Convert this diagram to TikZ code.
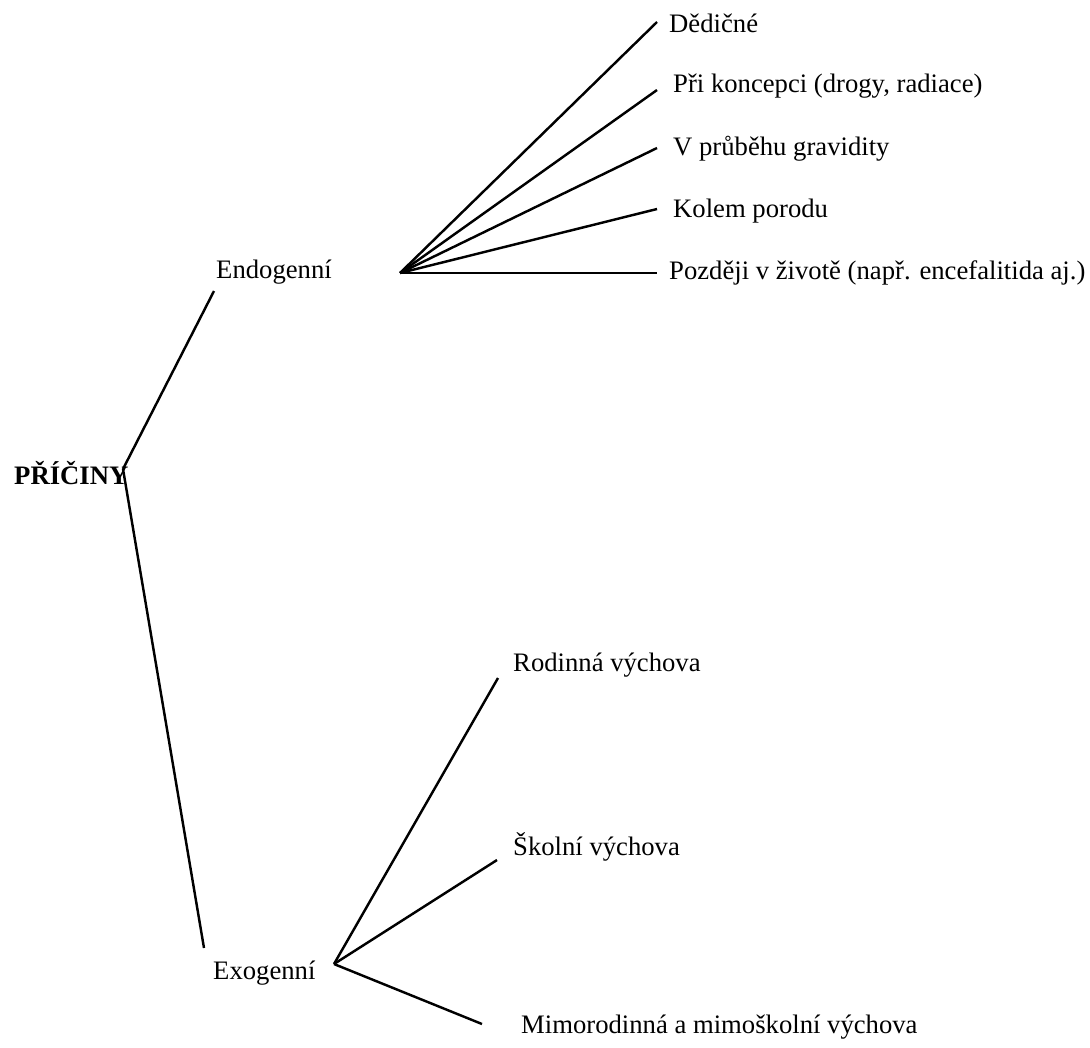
\documentclass[tikz,border=0pt]{standalone}
\usepackage{fontspec}
\setmainfont{Liberation Serif}
\usetikzlibrary{positioning}

\begin{document}
\begin{tikzpicture}[
  x=0.45pt, y=-0.45pt, line width=1.1pt,
  lbl/.style  = {anchor=base west, inner sep=0pt, font=\fontsize{12}{14}\selectfont},
  rootlbl/.style = {lbl, font=\fontsize{12}{14}\selectfont\bfseries},
]
  \useasboundingbox (0,0) rectangle (1090,1047);

  % root
  \node[rootlbl] (pric) at (13,484) {PŘÍČINY};
  \coordinate (hub) at (123,469);

  % main branches
  \node[lbl] (endo) at (215,278) {Endogenní};
  \coordinate (endo-in)  at (214,291);
  \coordinate (endo-out) at (400,273);

  \node[lbl] (exo) at (212,979) {Exogenní};
  \coordinate (exo-in)  at (204,948);
  \coordinate (exo-out) at (334,964);

  % endogenous causes
  \node[lbl] (dedic)   at (668,32)  {Dědičné};
  \node[lbl] (konc)    at (672,92)  {Při koncepci (drogy, radiace)};
  \node[lbl] (grav)    at (672,155) {V průběhu gravidity};
  \node[lbl] (porod)   at (672,217) {Kolem porodu};
  \node[lbl] (pozdeji) at (668,279) {Později v životě (např. encefalitida aj.)};
  \coordinate (dedic-end)   at (657,22);
  \coordinate (konc-end)    at (657,90);
  \coordinate (grav-end)    at (657,148);
  \coordinate (porod-end)   at (657,209);
  \coordinate (pozdeji-end) at (657,273);

  % exogenous causes
  \node[lbl] (rodin)  at (512,671)  {Rodinná výchova};
  \node[lbl] (skol)   at (512,855)  {Školní výchova};
  \node[lbl] (mimo)   at (520,1033) {Mimorodinná a mimoškolní výchova};
  \coordinate (rodin-end) at (498,678);
  \coordinate (skol-end)  at (497,860);
  \coordinate (mimo-end)  at (482,1024);

  \draw (hub) -- (endo-in);
  \draw (hub) -- (exo-in);

  \draw (endo-out) -- (dedic-end);
  \draw (endo-out) -- (konc-end);
  \draw (endo-out) -- (grav-end);
  \draw (endo-out) -- (porod-end);
  \draw (endo-out) -- (pozdeji-end);

  \draw (exo-out) -- (rodin-end);
  \draw (exo-out) -- (skol-end);
  \draw (exo-out) -- (mimo-end);
\end{tikzpicture}
\end{document}
